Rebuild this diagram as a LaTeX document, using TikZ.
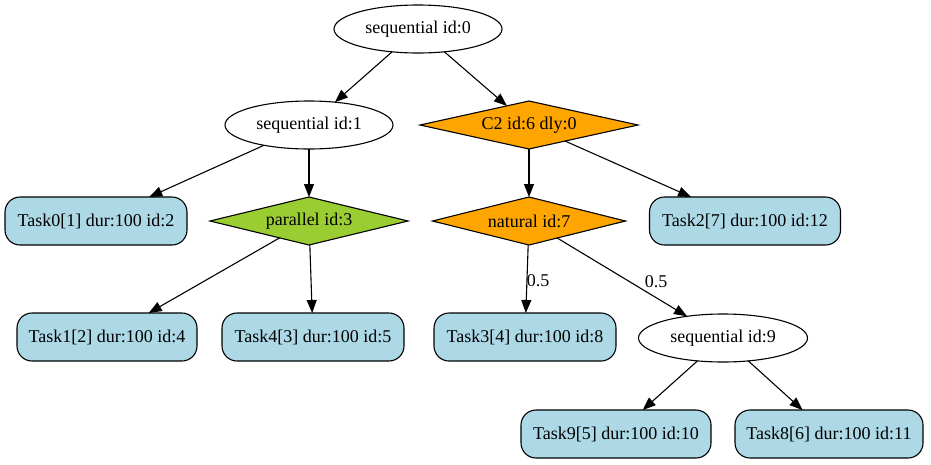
\documentclass[tikz,border=0pt]{standalone}
\usepackage{fontspec}
\setmainfont{Liberation Serif}
\usetikzlibrary{shapes.geometric,arrows.meta}
\definecolor{lblue}{HTML}{ADD8E6}
\definecolor{gvorange}{HTML}{FFA500}
\definecolor{ygreen}{HTML}{9ACD32}
\tikzset{
  every node/.style={font=\fontsize{18}{21}\selectfont, line width=1.1pt, outer sep=0pt},
  ellnode/.style={draw, ellipse, inner sep=0pt, minimum width=168pt, minimum height=48pt},
  dianode/.style={draw, diamond, aspect=4.5, inner sep=0pt, minimum height=48pt},
  tasknode/.style={draw, fill=lblue, rounded corners=15pt, inner sep=0pt, minimum height=48pt},
  conn/.style={line width=1.1pt, -{Triangle[length=13pt,width=10pt]}},
  elabel/.style={draw=none, inner sep=0pt}
}
\begin{document}
\begin{tikzpicture}[x=1pt,y=-1pt]
\useasboundingbox (0,0) rectangle (931,464);
\node[ellnode] (n0) at (418,29) {sequential id:0};
\node[ellnode] (n1) at (309,125) {sequential id:1};
\node[dianode, fill=gvorange, minimum width=218pt] (n6) at (529,125) {C2 id:6 dly:0};
\node[tasknode, minimum width=182pt] (n2) at (96,221) {Task0[1] dur:100 id:2};
\node[dianode, fill=ygreen, minimum width=198pt] (n3) at (309,221) {parallel id:3};
\node[dianode, fill=gvorange, minimum width=193pt] (n7) at (529,221) {natural id:7};
\node[tasknode, minimum width=191pt] (n12) at (745,221) {Task2[7] dur:100 id:12};
\node[tasknode, minimum width=180pt] (n4) at (107,337) {Task1[2] dur:100 id:4};
\node[tasknode, minimum width=182pt] (n5) at (313,337) {Task4[3] dur:100 id:5};
\node[tasknode, minimum width=182pt] (n8) at (525,337) {Task3[4] dur:100 id:8};
\node[ellnode, minimum width=169pt] (n9) at (723,338) {sequential id:9};
\node[tasknode, minimum width=190pt] (n10) at (616,434) {Task9[5] dur:100 id:10};
\node[tasknode, minimum width=188pt] (n11) at (829,434) {Task8[6] dur:100 id:11};
\draw[conn] (n0) -- (n1);
\draw[conn] (n0) -- (n6);
\draw[conn] (n1) -- (n2);
\draw[conn] (n1) -- (n3);
\draw[conn] (n6) -- (n7);
\draw[conn] (n6) -- (n12);
\draw[conn] (n3) -- (n4);
\draw[conn] (n3) -- (n5);
\draw[conn] (n7) -- node[elabel, xshift=11pt, yshift=-2pt] (l1) {0.5} (n8);
\draw[conn] (n7) -- node[elabel, xshift=34pt, yshift=-4pt] (l2) {0.5} (n9);
\draw[conn] (n9) -- (n10);
\draw[conn] (n9) -- (n11);
\end{tikzpicture}
\end{document}
